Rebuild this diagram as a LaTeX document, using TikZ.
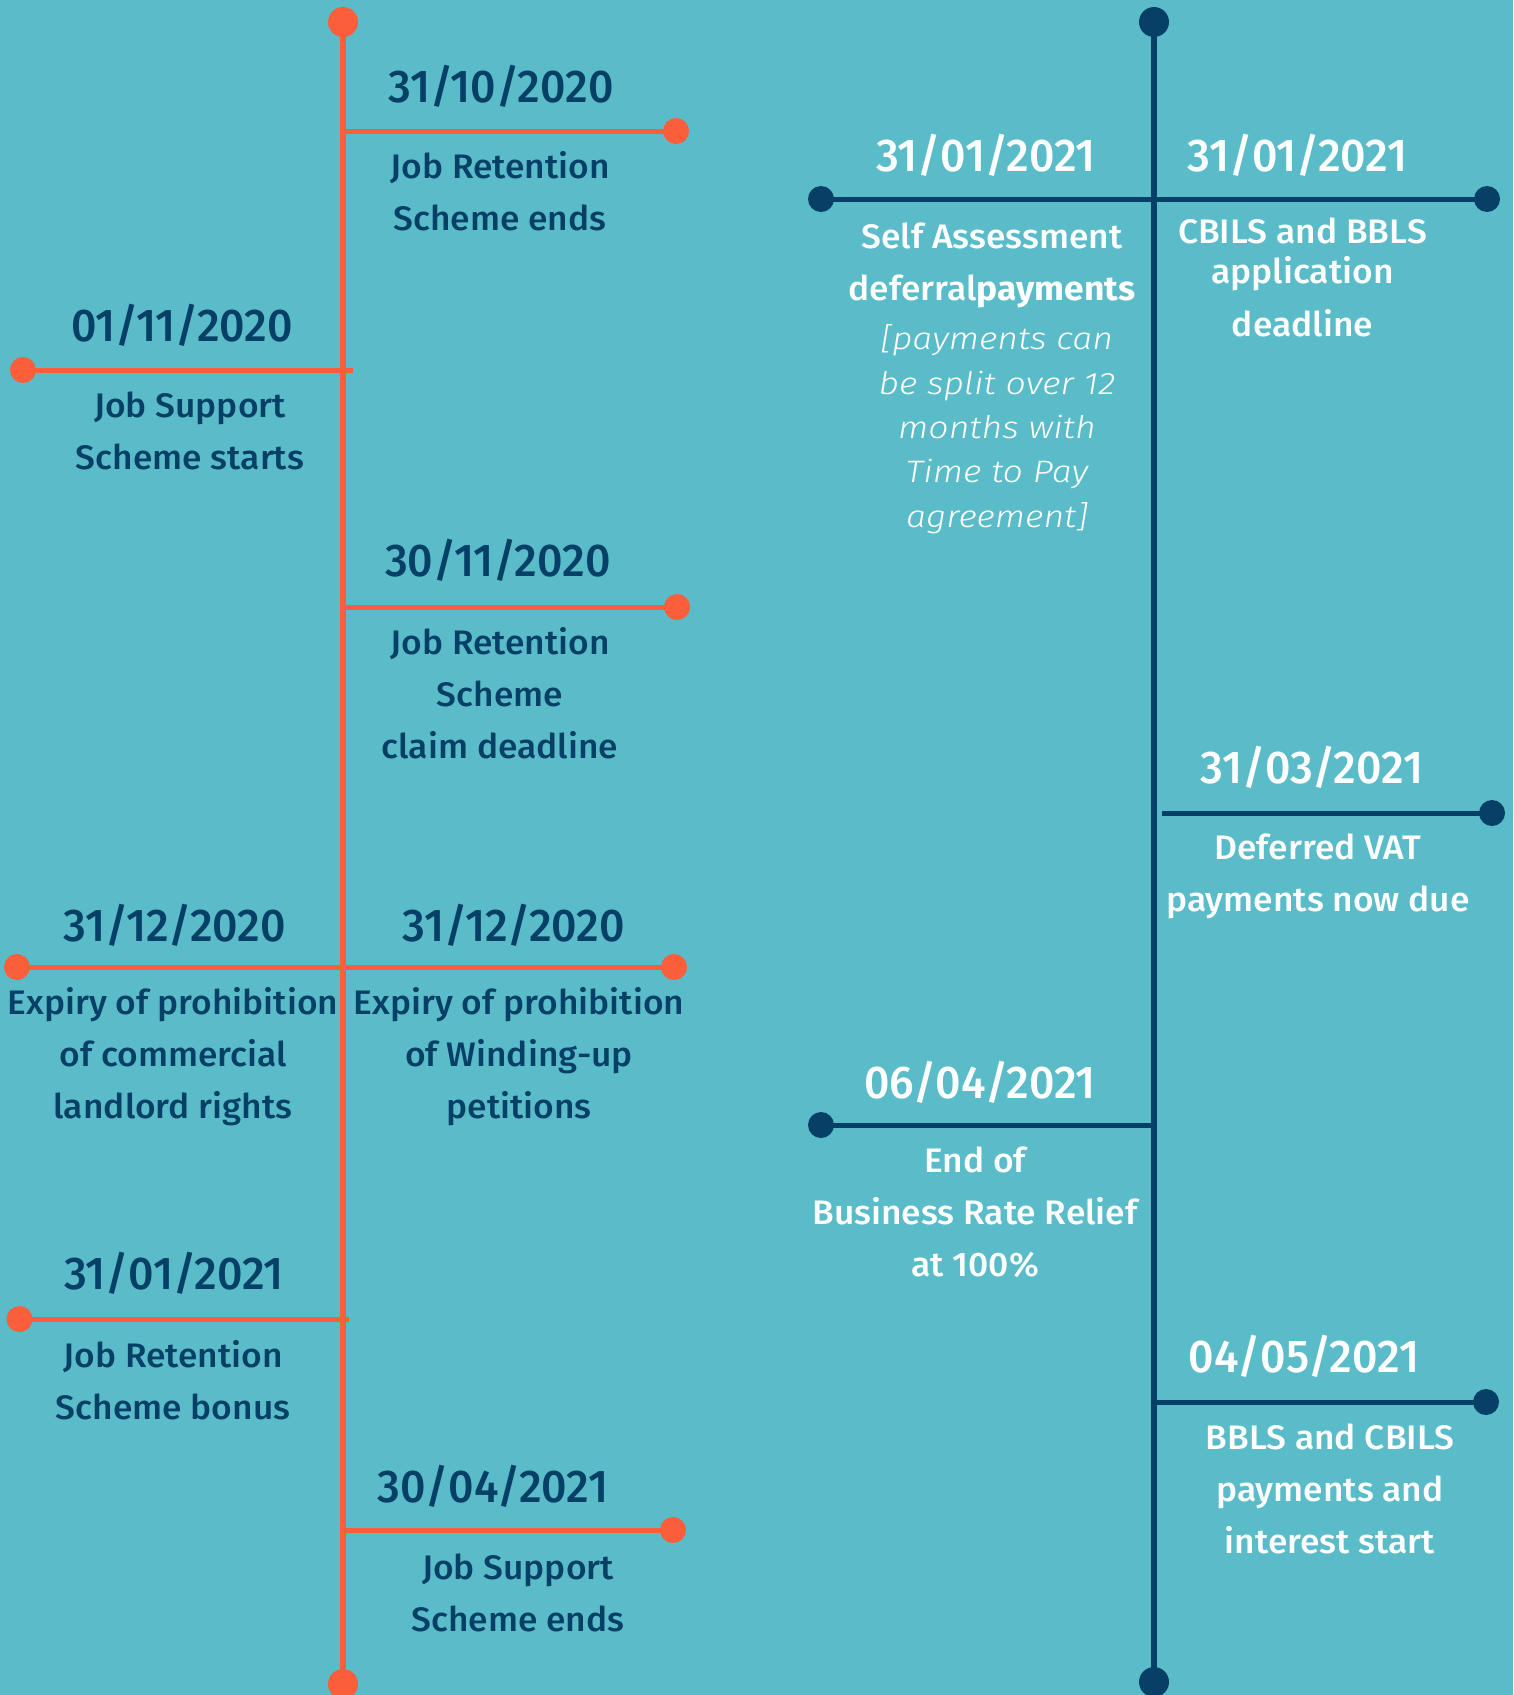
\documentclass[tikz,border=0pt]{standalone}
\usepackage{fontspec}
\setmainfont{Fira Sans}[UprightFont={* Medium},BoldFont={* Bold},ItalicFont={* Light Italic}]
\newfontfamily\datefont{Fira Sans}[UprightFont={* Medium},BoldFont={* Bold},FakeStretch=0.97]
\newfontfamily\descfont{Fira Sans}[UprightFont={* Medium},BoldFont={* Bold},FakeStretch=1.04]
\newfontfamily\notefont{Fira Sans}[UprightFont={* Light Italic},ItalicFont={* Light Italic},FakeStretch=1.15]
\definecolor{bgc}{RGB}{91,188,201}
\definecolor{org}{RGB}{250,94,58}
\definecolor{navy}{RGB}{7,64,102}
\begin{document}
\begin{tikzpicture}[x=1pt,y=-1pt,
  every node/.style={inner sep=0pt,outer sep=0pt},
  enddot/.style={circle,minimum size=30pt,fill=#1},
  brdot/.style={circle,minimum size=26pt,fill=#1},
  vline/.style={line width=5.5pt,draw=#1},
  hline/.style={line width=5pt,draw=#1},
  datelbl/.style={font=\datefont\fontsize{46}{56}\selectfont,text=#1,anchor=base},
  desclbl/.style={font=\descfont\fontsize{34}{52}\selectfont,text=#1,align=center,anchor=base},
  notelbl/.style={font=\notefont\fontsize{31}{44.3}\selectfont,text=white,align=center,anchor=base}]
\fill[bgc] (0,0) rectangle (1513,1695);
\useasboundingbox (0,0) rectangle (1513,1695);

% ---------- orange timeline ----------
\node[enddot=org] (otop) at (343,22) {};
\node[enddot=org] (obot) at (343,1684) {};
\draw[vline=org] (otop.center) -- (obot.center);

% E1
\node[brdot=org] (d1) at (676,131) {};
\draw[hline=org] (otop |- d1) -- (d1.center);
\node[datelbl=navy] (t1) at (501,102) {31/10/2020};
\node[desclbl=navy] (s1) at (500,230) {Job Retention\\Scheme ends};

% E2
\node[brdot=org] (d2) at (23,370) {};
\coordinate (e2) at (353,370);
\draw[hline=org] (d2.center) -- (e2);
\node[datelbl=navy] (t2) at (182,341.7) {01/11/2020};
\node[desclbl=navy] (s2) at (190,469) {Job Support\\Scheme starts};

% E3
\node[brdot=org] (d3) at (677,607) {};
\draw[hline=org] (otop |- d3) -- (d3.center);
\node[datelbl=navy] (t3) at (498,576.7) {30/11/2020};
\node[desclbl=navy] (s3) at (500,758) {Job Retention\\Scheme\\claim deadline};

% E4
\node[brdot=org] (d4l) at (17,967) {};
\node[brdot=org] (d4r) at (674,967) {};
\draw[hline=org] (d4l.center) -- (d4r.center);
\node[datelbl=navy] (t4l) at (175,941) {31/12/2020};
\node[datelbl=navy] (t4r) at (514,941) {31/12/2020};
\node[desclbl=navy] (s4l) at (173,1118.3) {Expiry of prohibition\\of commercial\\landlord rights};
\node[desclbl=navy] (s4r) at (519,1118.3) {Expiry of prohibition\\of Winding-up\\petitions};

% E5
\node[brdot=org] (d5) at (19.5,1319) {};
\coordinate (e5) at (349,1319);
\draw[hline=org] (d5.center) -- (e5);
\node[datelbl=navy] (t5) at (174,1289.3) {31/01/2021};
\node[desclbl=navy] (s5) at (173,1419) {Job Retention\\Scheme bonus};

% E6
\node[brdot=org] (d6) at (673,1530) {};
\draw[hline=org] (otop |- d6) -- (d6.center);
\node[datelbl=navy] (t6) at (493,1502) {30/04/2021};
\node[desclbl=navy] (s6) at (518,1631) {Job Support\\Scheme ends};

% ---------- navy timeline ----------
\node[enddot=navy] (ntop) at (1154,22) {};
\node[enddot=navy] (nbot) at (1154,1682) {};
\draw[vline=navy] (ntop.center) -- (nbot.center);

% E7
\node[brdot=navy] (d7l) at (821,199) {};
\node[brdot=navy] (d7r) at (1487,199) {};
\draw[hline=navy] (d7l.center) -- (d7r.center);
\node[datelbl=white] (t7l) at (986,171.4) {31/01/2021};
\node[datelbl=white] (t7r) at (1297.5,171.4) {31/01/2021};
\node[desclbl=white] (s7l) at (992,300) {Self Assessment\\deferral\textbf{payments}};
\node[notelbl] (n7l) at (997,527) {[payments can\\be split over 12\\months with\\Time to Pay\\agreement]};
\node[desclbl=white] (s7r) at (1302.5,336.7) {CBILS and BBLS\\[-12pt]application\\[1pt]deadline};

% E8
\node[brdot=navy] (d8) at (1492,813) {};
\coordinate (e8) at (1162,813);
\draw[hline=navy] (e8) -- (d8.center);
\node[datelbl=white] (t8) at (1312,783) {31/03/2021};
\node[desclbl=white] (s8) at (1318,911.4) {Deferred VAT\\payments now due};

% E9
\node[brdot=navy] (d9) at (821,1125) {};
\coordinate (e9) at (1151,1125);
\draw[hline=navy] (d9.center) -- (e9);
\node[datelbl=white] (t9) at (980,1098.9) {06/04/2021};
\node[desclbl=white] (s9) at (975,1276.8) {End of\\Business Rate Relief\\at 100\%};

% E10
\node[brdot=navy] (d10) at (1486,1402) {};
\draw[hline=navy] (ntop |- d10) -- (d10.center);
\node[datelbl=white] (t10) at (1304,1372) {04/05/2021};
\node[desclbl=white] (s10) at (1330,1553) {BBLS and CBILS\\payments and\\interest start};
\end{tikzpicture}
\end{document}
